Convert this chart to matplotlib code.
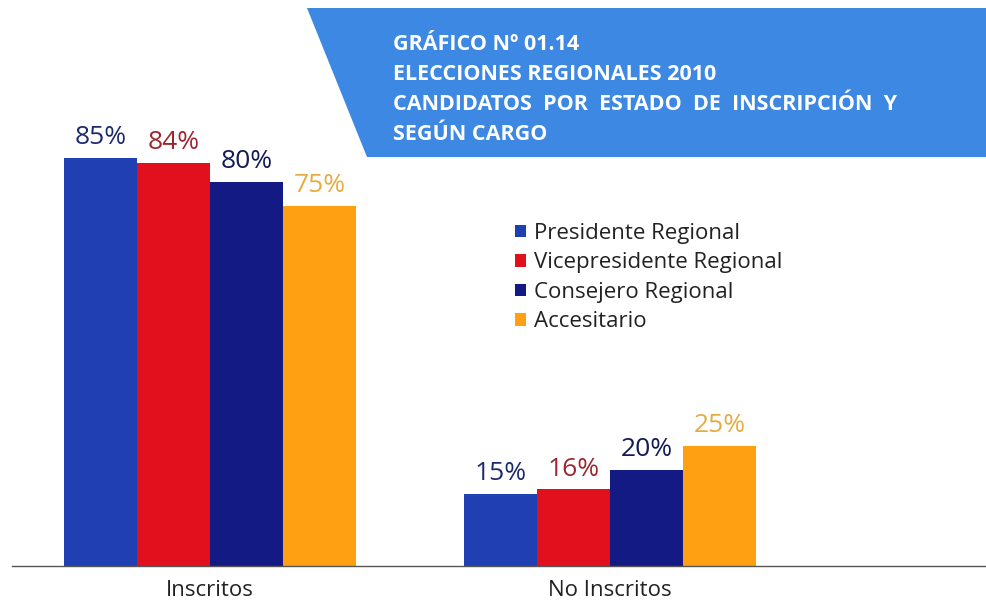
import numpy as np
import matplotlib.pyplot as plt
from matplotlib.patches import Polygon

# data
categories = ["Inscritos", "No Inscritos"]
series = ["Presidente Regional", "Vicepresidente Regional", "Consejero Regional", "Accesitario"]
values = [
    [85, 15],
    [84, 16],
    [80, 20],
    [75, 25],
]
bar_colors = ["#1f3fb2", "#e2101c", "#141a84", "#ffa012"]
label_colors = ["#1e2a6e", "#9c2630", "#141a55", "#e6ac40"]

title_lines = [
    "GRÁFICO Nº 01.14",
    "ELECCIONES REGIONALES 2010",
    "CANDIDATOS  POR  ESTADO  DE  INSCRIPCIÓN  Y",
    "SEGÚN CARGO",
]

W, H = 987, 600
plt.rcParams["font.family"] = ["Open Sans", "DejaVu Sans"]
fig = plt.figure(figsize=(W / 100, H / 100), dpi=100)

# axes: x from 12px to 987px, baseline at y=566px
ax = fig.add_axes([12 / W, (H - 566) / H, (987 - 12) / W, 566 / H])
ax.set_ylim(0, 566 / 4.8)
ax.set_xlim(-0.495, 1.9425)

x = np.arange(len(categories))
width = 0.1825
offsets = (np.arange(len(series)) - 1.5) * width
handles = []
for i, name in enumerate(series):
    bars = ax.bar(x + offsets[i], values[i], width, color=bar_colors[i], label=name)
    handles.append(bars)
    for xb, v in zip(x + offsets[i], values[i]):
        ax.text(xb, v + 1.6, f"{v}%", ha="center", va="bottom",
                fontsize=19, color=label_colors[i])

for s in ["top", "right", "left"]:
    ax.spines[s].set_visible(False)
ax.spines["bottom"].set_color("#555555")
ax.spines["bottom"].set_linewidth(1.0)
ax.set_yticks([])
ax.set_xticks(x)
ax.set_xticklabels(categories, fontsize=16, color="#222222")
ax.tick_params(axis="x", length=0, pad=10)

# legend
leg = fig.legend(handles=handles, labels=series, loc="upper left",
                 bbox_to_anchor=(506 / W, 1 - 214 / H), frameon=False,
                 fontsize=16, handlelength=0.5, handleheight=0.5,
                 handletextpad=0.35, labelspacing=0.38, borderaxespad=0)
for t in leg.get_texts():
    t.set_color("#222222")

# title banner
banner = Polygon([(307 / W, 1 - 8 / H), (1.0, 1 - 8 / H), (1.0, 1 - 157 / H),
                  (367 / W, 1 - 157 / H)], closed=True,
                 transform=fig.transFigure, facecolor="#3d88e3", edgecolor="none")
fig.patches.append(banner)
ys = [45, 74, 104, 134]
for line, yy in zip(title_lines, ys):
    fig.text(393 / W, 1 - yy / H, line, ha="left", va="center",
             fontsize=15.5, fontweight="bold", color="white")

fig.savefig("out.png", dpi=100)
